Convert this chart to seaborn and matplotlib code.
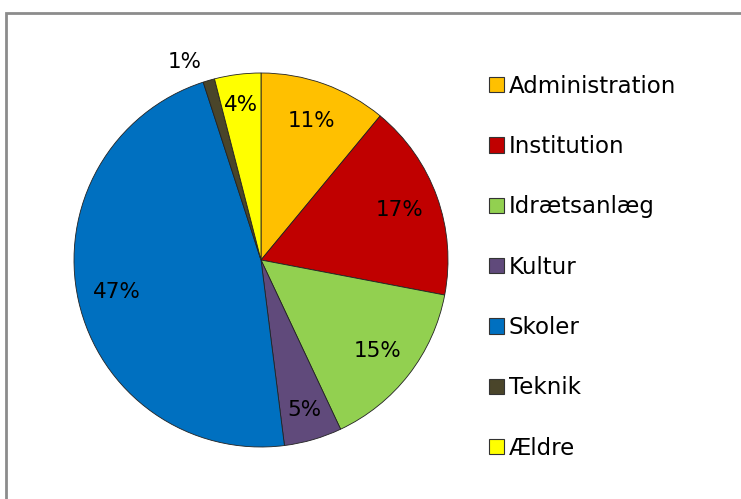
"""
Pie chart: udgifter fordelt på område
"""

import matplotlib
matplotlib.use("Agg")
import matplotlib.pyplot as plt
import matplotlib.patches as mpatches
import seaborn as sns

categories = ['Administration', 'Institution', 'Idrætsanlæg', 'Kultur',
              'Skoler', 'Teknik', 'Ældre']
shares = [11, 17, 15, 5, 47, 1, 4]
colors = ['#FFC000', '#C00000', '#92D050', '#604A7B',
          '#0070C0', '#4A452A', '#FFFF00']

sns.set_theme(style="white")
plt.rcParams['font.family'] = ['DejaVu Sans']
plt.rcParams['text.color'] = 'black'

fig = plt.figure(figsize=(7.41, 4.99), dpi=100)
ax = fig.add_axes([74 / 741, 52 / 499, 374 / 741, 374 / 499])

palette = sns.color_palette(colors)
wedges, texts, autotexts = ax.pie(
    shares, colors=palette, startangle=90, counterclock=False,
    autopct='%.0f%%', pctdistance=0.79, radius=1,
    wedgeprops=dict(edgecolor='#222222', linewidth=0.6),
    textprops=dict(fontsize=15.5, color='black'))

# narrow slices: push labels a little outward, tiny one goes outside
for share, label in zip(shares, autotexts):
    x, y = label.get_position()
    if share == 1:
        label.set_position((x * 1.395 - 0.1, y * 1.395))
    elif share <= 5:
        label.set_position((x * 1.06, y * 1.06))

ax.set_xlim(-1, 1)
ax.set_ylim(-1, 1)
ax.set_aspect('equal')
ax.axis('off')

handles = [mpatches.Patch(facecolor=c, edgecolor='#333333', linewidth=0.8)
           for c in palette]
leg = fig.legend(handles, categories, loc='upper left',
                 bbox_to_anchor=(468 / 741, 1 - 54 / 499), frameon=False,
                 fontsize=16.5, handlelength=0.66, handleheight=0.66,
                 handletextpad=0.22, labelspacing=1.63)
for t in leg.get_texts():
    t.set_color('black')

# grey chart border (top and left visible)
fig.patches.append(mpatches.Rectangle(
    (6 / 741, -0.1), 2, (499 - 13) / 499 + 0.1, transform=fig.transFigure,
    fill=False, edgecolor='#8c8c8c', linewidth=2))

plt.savefig('out.png', dpi=100)
plt.close()
